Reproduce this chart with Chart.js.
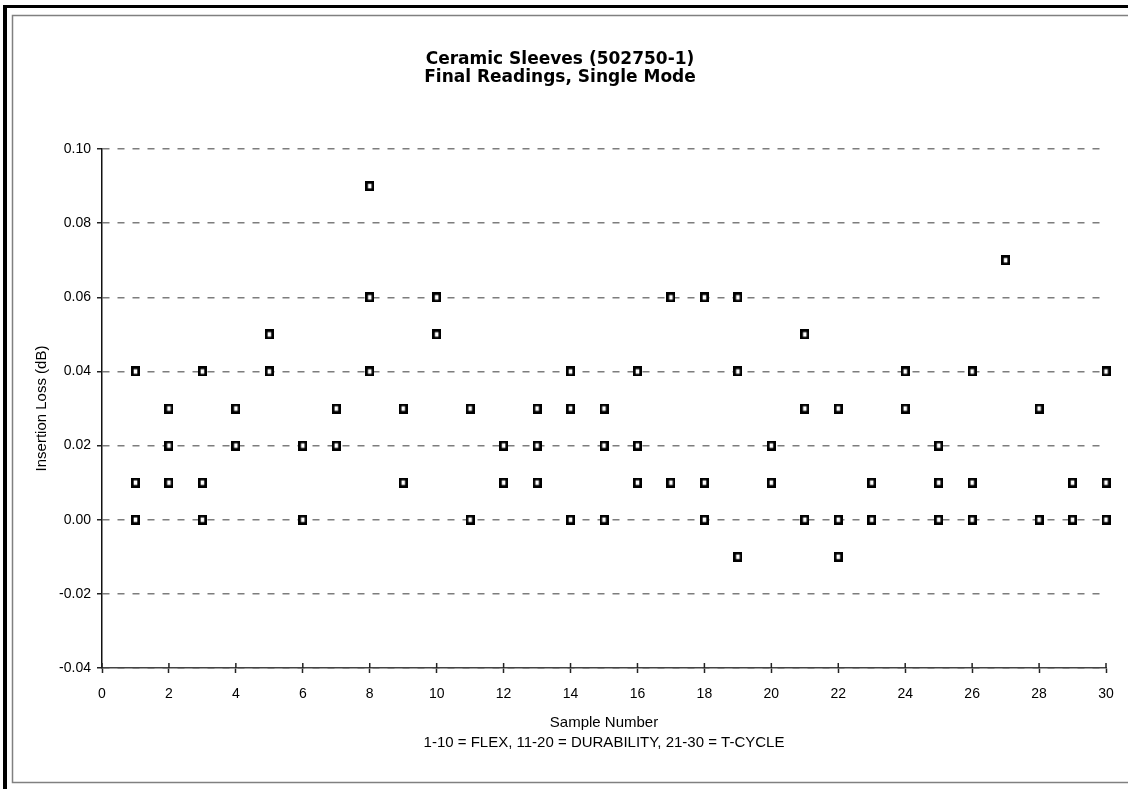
<!DOCTYPE html>
<html>
<head>
<meta charset="utf-8">
<script src="https://cdn.jsdelivr.net/npm/chart.js@4/dist/chart.umd.min.js"></script>
<style>
  html, body { margin: 0; padding: 0; background: #fff; }
  #wrap { width: 1128px; height: 789px; position: relative; }
</style>
</head>
<body>
<div id="wrap"><canvas id="myChart"></canvas></div>
<script>
// Sample numbers, grouped by test
const flexSamples = [1, 2, 3, 4, 5, 6, 7, 8, 9, 10];
const durabilitySamples = [11, 12, 13, 14, 15, 16, 17, 18, 19, 20];
const tcycleSamples = [21, 22, 23, 24, 25, 26, 27, 28, 29, 30];

// Final insertion loss readings (dB) per sample
const flexReadings = [
    [0.04, 0.01, 0.00], [0.03, 0.02, 0.01], [0.04, 0.01, 0.00], [0.03, 0.02], [0.05, 0.04],
    [0.02, 0.00], [0.03, 0.02], [0.09, 0.06, 0.04], [0.03, 0.01], [0.06, 0.05]
];
const durabilityReadings = [
    [0.03, 0.00], [0.02, 0.01], [0.03, 0.02, 0.01], [0.04, 0.03, 0.00], [0.03, 0.02, 0.00],
    [0.04, 0.02, 0.01], [0.06, 0.01], [0.06, 0.01, 0.00], [0.06, 0.04, -0.01], [0.02, 0.01]
];
const tcycleReadings = [
    [0.05, 0.03, 0.00], [0.03, 0.00, -0.01], [0.01, 0.00], [0.04, 0.03], [0.02, 0.01, 0.00],
    [0.04, 0.01, 0.00], [0.07], [0.03, 0.00], [0.01, 0.00], [0.04, 0.01, 0.00]
];

const titleLines = ['Ceramic Sleeves (502750-1)', 'Final Readings, Single Mode'];
const xTitleLines = ['Sample Number', '1-10 = FLEX, 11-20 = DURABILITY, 21-30 = T-CYCLE'];
const yTitle = 'Insertion Loss (dB)';

// Flatten the groups into scatter points
const points = [];
[[flexSamples, flexReadings], [durabilitySamples, durabilityReadings], [tcycleSamples, tcycleReadings]]
    .forEach(([samples, readings]) => {
        samples.forEach((s, i) => {
            readings[i].forEach(v => points.push({ x: s, y: v }));
        });
    });

const FONT = 'Liberation Sans, Arial, Helvetica, sans-serif';

// Hollow marker, a little taller than wide
const marker = document.createElement('canvas');
marker.width = 9;
marker.height = 10;
const mctx = marker.getContext('2d');
mctx.fillStyle = '#000';
mctx.fillRect(0, 0, 9, 10);
mctx.fillStyle = '#fff';
mctx.fillRect(2.7, 2.7, 3.6, 4.6);

// White background and the double frame round the chart
const framePlugin = {
    id: 'frame',
    beforeDraw(chart) {
        const c = chart.ctx;
        c.save();
        c.fillStyle = '#fff';
        c.fillRect(0, 0, chart.width, chart.height);
        c.fillStyle = '#000';
        c.fillRect(3, 5, chart.width - 3, 3);
        c.fillRect(3, 5, 4, chart.height - 5);
        c.strokeStyle = '#808080';
        c.lineWidth = 1.5;
        c.strokeRect(12.5, 15.5, chart.width, 767);
        c.restore();
    }
};

// X tick marks cross the axis line, draw the inner half
const crossTicks = {
    id: 'crossTicks',
    afterDatasetsDraw(chart) {
        const xs = chart.scales.x;
        const c = chart.ctx;
        c.save();
        c.strokeStyle = '#222';
        c.lineWidth = 1.5;
        xs.ticks.forEach(t => {
            const px = xs.getPixelForValue(t.value);
            c.beginPath();
            c.moveTo(px, xs.top - 5);
            c.lineTo(px, xs.top);
            c.stroke();
        });
        c.restore();
    }
};

const ctx = document.getElementById('myChart').getContext('2d');
new Chart(ctx, {
    type: 'scatter',
    data: {
        datasets: [{
            label: 'Insertion Loss',
            data: points,
            pointStyle: marker,
            pointRadius: 5,
            pointHoverRadius: 5,
            clip: false
        }]
    },
    options: {
        responsive: true,
        maintainAspectRatio: false,
        animation: false,
        layout: { padding: { left: 14, right: 22, top: 0, bottom: 0 } },
        plugins: {
            legend: { display: false },
            tooltip: { enabled: false },
            title: {
                display: true,
                text: titleLines,
                color: '#000',
                font: { family: 'DejaVu Sans, ' + FONT, size: 17, weight: 'bold', lineHeight: 1.06 },
                padding: { top: 51, bottom: 62 }
            }
        },
        scales: {
            x: {
                type: 'linear',
                min: 0,
                max: 30,
                afterFit: s => { s.height = 121; },
                ticks: {
                    stepSize: 2,
                    color: '#000',
                    padding: 13,
                    font: { family: FONT, size: 14 },
                    maxRotation: 0
                },
                grid: { drawOnChartArea: false, drawTicks: true, tickLength: 5, tickColor: '#222', tickWidth: 1.5 },
                border: { display: true, color: '#444', width: 1.5 },
                title: {
                    display: true,
                    text: xTitleLines,
                    color: '#000',
                    font: { family: FONT, size: 15, lineHeight: 1.333 },
                    padding: { top: 0, bottom: 36 }
                }
            },
            y: {
                min: -0.04,
                max: 0.10,
                afterFit: s => { s.width = 88; },
                ticks: {
                    stepSize: 0.02,
                    color: '#000',
                    padding: 6,
                    font: { family: FONT, size: 14 },
                    callback: v => v.toFixed(2)
                },
                grid: { color: '#7d7d7d', lineWidth: 1.5, tickLength: 5, tickColor: '#222', tickWidth: 1.5, tickBorderDash: [] },
                border: { display: true, color: '#111', width: 1.5, dash: [7, 8] },
                title: {
                    display: true,
                    text: yTitle,
                    color: '#000',
                    font: { family: FONT, size: 15, lineHeight: 1.2 },
                    padding: { top: 19, bottom: 0 }
                }
            }
        }
    },
    plugins: [framePlugin, crossTicks]
});
</script>
</body>
</html>
